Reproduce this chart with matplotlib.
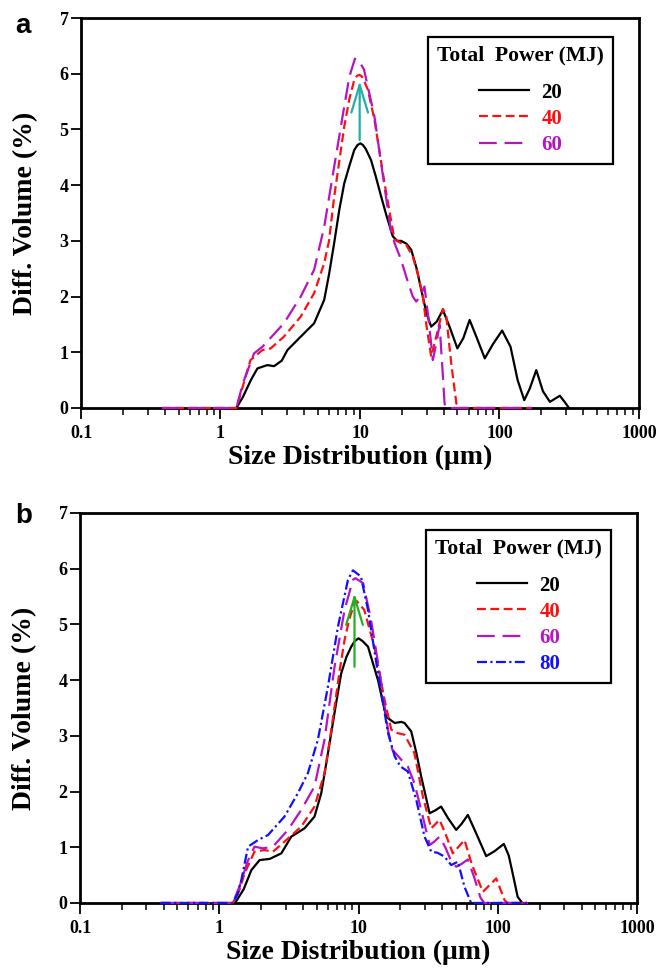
import numpy as np
import matplotlib
matplotlib.use('Agg')
import matplotlib.pyplot as plt
from matplotlib.ticker import LogLocator, NullFormatter, FixedLocator, FixedFormatter

plt.rcParams['font.family'] = ['Liberation Serif', 'DejaVu Serif']
plt.rcParams['font.weight'] = 'bold'
plt.rcParams['axes.labelweight'] = 'bold'

# ============================================================
# Data (size in um, diff. volume in %)
# ============================================================
# panel a
a20_x = [1.3, 1.45, 1.65, 1.84, 2.17, 2.42, 2.75, 3.02, 3.76, 4.69, 5.54, 6.0, 6.53, 7.1,
         7.71, 8.4, 9.1, 9.6, 10.05, 10.5, 11.0, 12.0, 13.0, 14.2, 15.5, 17.2, 18.5, 19.7,
         21.5, 23.3, 25.5, 27.5, 30.0, 32.4, 35.5, 39.3, 44.0, 49.9, 55.0, 61.1, 69.0,
         78.5, 90.0, 104.5, 120, 135, 150.6, 165, 183.7, 205, 230, 271, 295, 315]
a20_y = [0, 0.2, 0.5, 0.71, 0.77, 0.75, 0.85, 1.04, 1.28, 1.52, 1.94, 2.4, 2.96, 3.55,
         4.03, 4.35, 4.63, 4.72, 4.75, 4.72, 4.65, 4.45, 4.15, 3.79, 3.45, 3.08, 3.0, 3.0,
         2.95, 2.84, 2.5, 2.12, 1.7, 1.46, 1.55, 1.76, 1.45, 1.07, 1.25, 1.58, 1.25,
         0.89, 1.15, 1.39, 1.1, 0.5, 0.14, 0.35, 0.68, 0.3, 0.11, 0.22, 0.1, 0]

a40_x = [0.38, 1.3, 1.45, 1.64, 2.0, 2.29, 2.85, 3.76, 4.69, 5.54, 6.0, 6.53, 7.1, 7.71,
         8.4, 9.1, 9.5, 9.9, 10.3, 10.6, 11.4, 12.7, 15.0, 17.7, 19.7, 21.4, 23.9, 26.0,
         28.2, 29.8, 32.4, 36.2, 39.3, 41.6, 45.1, 49.1, 52, 170]
a40_y = [0, 0, 0.4, 0.86, 1.04, 1.07, 1.28, 1.64, 2.06, 2.60, 3.0, 3.79, 4.42, 5.05,
         5.55, 5.89, 5.96, 5.98, 5.95, 5.9, 5.71, 5.17, 4.03, 3.02, 2.96, 2.93, 2.72, 2.4,
         2.03, 1.52, 0.92, 1.40, 1.78, 1.64, 0.80, 0.08, 0, 0]

a60_x = [0.38, 1.3, 1.45, 1.74, 2.0, 2.85, 3.76, 4.69, 5.54, 6.53, 7.71, 8.4, 9.2, 10.0,
         10.7, 12.7, 15.0, 16.7, 17.7, 19.7, 21.5, 23.9, 25.3, 27.0, 29.0, 31.0, 33.3,
         35.5, 37.2, 38.8, 40.4, 41.5, 170]
a60_y = [0, 0, 0.45, 0.98, 1.10, 1.52, 2.0, 2.48, 3.25, 4.33, 5.41, 5.95, 6.27, 6.2,
         6.07, 5.23, 3.97, 3.17, 2.96, 2.66, 2.35, 2.0, 1.91, 2.0, 2.18, 1.6, 0.86,
         1.2, 1.49, 0.8, 0.08, 0, 0]

# panel b
b20_x = [1.3, 1.5, 1.70, 1.95, 2.30, 2.79, 3.29, 4.10, 4.83, 5.40, 5.9, 6.37, 6.9, 7.51,
         8.2, 8.87, 9.4, 10.0, 10.7, 11.7, 13.8, 15.8, 18.2, 20.3, 21.4, 23.9, 26.0, 28.2,
         32.4, 35.5, 39.2, 44.0, 50.3, 55.0, 61.0, 70.0, 82.6, 95.0, 110.6, 120, 128, 139,
         150]
b20_y = [0, 0.25, 0.59, 0.77, 0.79, 0.89, 1.19, 1.34, 1.55, 1.97, 2.54, 3.05, 3.58, 4.12,
         4.42, 4.60, 4.70, 4.75, 4.70, 4.60, 4.0, 3.34, 3.23, 3.25, 3.23, 3.08, 2.7, 2.27,
         1.61, 1.66, 1.73, 1.52, 1.31, 1.42, 1.58, 1.25, 0.84, 0.93, 1.06, 0.85, 0.53, 0.11,
         0]

b40_x = [0.38, 1.25, 1.38, 1.52, 1.79, 2.11, 2.43, 2.94, 3.88, 4.83, 5.70, 6.2, 6.73, 7.3,
         7.94, 8.6, 9.36, 9.7, 11.0, 13.0, 15.4, 17.2, 19.0, 21.4, 25.2, 29.0, 33.3, 38.2,
         42.0, 47.6, 57.7, 65.0, 78.2, 97.5, 112, 117, 165]
b40_y = [0, 0, 0.2, 0.53, 0.92, 0.95, 0.92, 1.10, 1.37, 1.73, 2.33, 2.9, 3.52, 4.15,
         4.72, 5.1, 5.38, 5.42, 5.26, 4.60, 3.64, 3.11, 3.05, 3.02, 2.69, 1.91, 1.34, 1.49,
         1.25, 0.89, 1.13, 0.7, 0.20, 0.44, 0.05, 0, 0]

b60_x = [0.38, 1.25, 1.4, 1.6, 1.79, 2.06, 2.43, 3.11, 3.88, 4.83, 5.70, 6.73, 7.94, 9.12,
         9.5, 10.8, 12.3, 14.6, 16.3, 17.5, 20.3, 22.6, 25.2, 28.2, 32.4, 35.0, 38.2, 42.0,
         46.3, 50.3, 55.0, 61.0, 68.0, 75.0, 80.0, 165]
b60_y = [0, 0, 0.3, 0.75, 1.01, 0.98, 1.01, 1.31, 1.67, 2.09, 2.93, 4.24, 5.26, 5.80,
         5.83, 5.74, 5.08, 3.94, 3.1, 2.75, 2.57, 2.45, 2.15, 1.67, 1.04, 1.1, 1.19, 1.0,
         0.75, 0.65, 0.7, 0.78, 0.45, 0.1, 0, 0]

b80_x = [0.38, 1.25, 1.35, 1.44, 1.61, 1.90, 2.24, 2.94, 3.67, 4.33, 5.11, 6.03, 7.12, 8.4,
         9.12, 10.4, 11.7, 13.8, 16.3, 18.2, 20.0, 22.6, 26.0, 29.8, 33.3, 37.0, 41.5,
         46.3, 51.7, 57.7, 64.4, 165]
b80_y = [0, 0, 0.15, 0.41, 1.01, 1.13, 1.22, 1.55, 1.97, 2.33, 2.93, 3.88, 4.96, 5.80,
         5.97, 5.86, 5.26, 4.12, 3.05, 2.63, 2.45, 2.36, 1.85, 1.19, 0.92, 0.9, 0.83,
         0.68, 0.74, 0.29, 0, 0]

labels_a = ['20', '40', '60']
labels_b = ['20', '40', '60', '80']

# arrows (x, y_start, y_end)
arrow_a = (9.95, 4.81, 5.87)
arrow_b = (9.36, 4.24, 5.56)

x_ticks = [0.1, 1, 10, 100, 1000]
x_ticklabels = ['0.1', '1', '10', '100', '1000']
y_ticks = [0, 1, 2, 3, 4, 5, 6, 7]

# ============================================================
# Styles
# ============================================================
styles = {
    '20': dict(color='black', linestyle='-'),
    '40': dict(color='#FF1010', linestyle=(0, (4, 2))),
    '60': dict(color='#B515C0', linestyle=(0, (8, 3.5))),
    '80': dict(color='#1010FF', linestyle=(0, (4.5, 1.5, 1, 1.5))),
}


def style_axes(ax):
    ax.set_xscale('log')
    ax.set_xlim(0.1, 1000)
    ax.set_ylim(0, 7)
    ax.xaxis.set_major_locator(FixedLocator(x_ticks))
    ax.xaxis.set_major_formatter(FixedFormatter(x_ticklabels))
    ax.xaxis.set_minor_locator(LogLocator(base=10, subs=np.arange(2, 10), numticks=20))
    ax.xaxis.set_minor_formatter(NullFormatter())
    ax.set_yticks(y_ticks)
    ax.tick_params(axis='x', which='major', direction='out', length=8, width=1.3,
                   labelsize=13, pad=4, top=False)
    ax.tick_params(axis='x', which='minor', direction='out', length=5, width=1.1, top=False)
    ax.tick_params(axis='y', which='major', direction='out', length=7, width=1.3,
                   labelsize=13, pad=2, right=False)
    for s in ax.spines.values():
        s.set_linewidth(2.0)
    ax.set_xlabel('Size Distribution (\u03bcm)', fontsize=20)
    ax.set_ylabel('Diff. Volume (%)', fontsize=20)
    ax.yaxis.set_label_coords(-0.077, 0.5)
    ax.xaxis.set_label_coords(0.5, -0.095)


def add_legend(ax, anchor):
    leg = ax.legend(title='Total  Power (MJ)', loc='upper right', bbox_to_anchor=anchor,
                    borderaxespad=0, fontsize=15, title_fontsize=15.5, handlelength=2.4,
                    handletextpad=0.6, labelspacing=0.3, borderpad=0.42, frameon=True,
                    fancybox=False, framealpha=1, edgecolor='black')
    leg.get_frame().set_linewidth(1.6)
    leg.get_title().set_fontweight('bold')
    leg._legend_box.sep = 12  # room between title and entries
    for txt, line in zip(leg.get_texts(), leg.get_lines()):
        txt.set_color(line.get_color())
        txt.set_fontweight('bold')
    return leg


fig = plt.figure(figsize=(6.56, 9.73), dpi=100)
ax1 = fig.add_axes([0.1235, 0.5807, 0.8505, 0.4008])
ax2 = fig.add_axes([0.122, 0.0720, 0.849, 0.4008])

# ---------------- panel a ----------------
for lab, xs, ys in zip(labels_a, [a20_x, a40_x, a60_x], [a20_y, a40_y, a60_y]):
    ax1.plot(xs, ys, lw=1.6, label=lab, zorder=3, clip_on=False, **styles[lab])
ax1.annotate('', xy=(arrow_a[0], arrow_a[2]), xytext=(arrow_a[0], arrow_a[1]),
             arrowprops=dict(arrowstyle='->,head_length=1.0,head_width=0.3',
                             color='#20B0A8', lw=1.6, mutation_scale=20,
                             shrinkA=0, shrinkB=0), zorder=4)
style_axes(ax1)
add_legend(ax1, (0.953, 0.951))

# ---------------- panel b ----------------
for lab, xs, ys in zip(labels_b, [b20_x, b40_x, b60_x, b80_x],
                       [b20_y, b40_y, b60_y, b80_y]):
    ax2.plot(xs, ys, lw=1.6, label=lab, zorder=3, clip_on=False, **styles[lab])
ax2.annotate('', xy=(arrow_b[0], arrow_b[2]), xytext=(arrow_b[0], arrow_b[1]),
             arrowprops=dict(arrowstyle='->,head_length=1.0,head_width=0.3',
                             color='#22B022', lw=1.6, mutation_scale=20,
                             shrinkA=0, shrinkB=0), zorder=4)
style_axes(ax2)
add_legend(ax2, (0.953, 0.956))

# panel letters
fig.text(0.023, 0.966, 'a', fontsize=20, fontweight='bold', family='Liberation Sans')
fig.text(0.023, 0.4625, 'b', fontsize=20, fontweight='bold', family='Liberation Sans')

fig.savefig('out.png', dpi=100)
